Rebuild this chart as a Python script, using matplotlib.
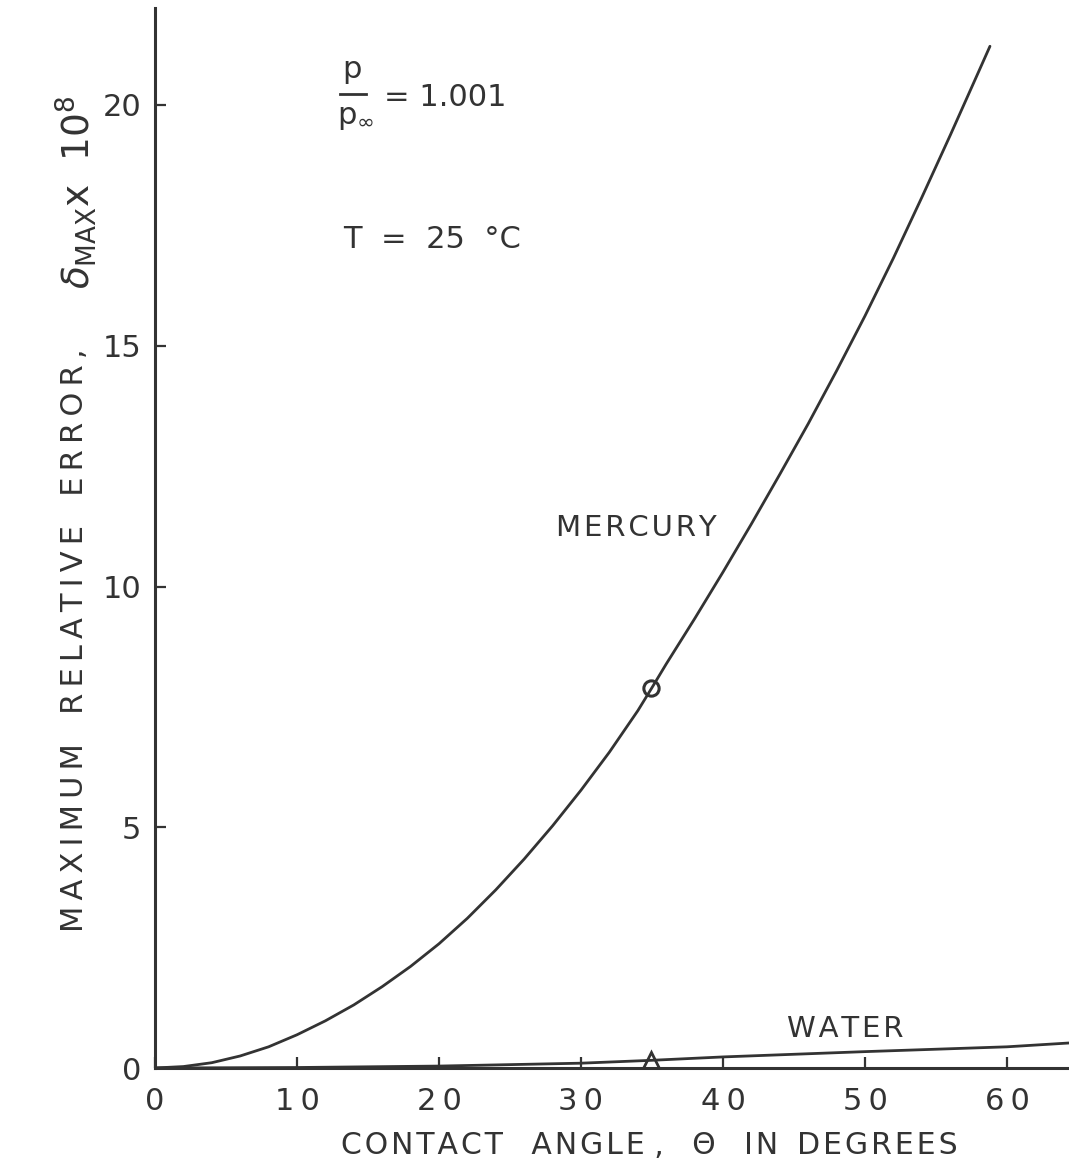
import matplotlib
matplotlib.use("Agg")
import matplotlib.pyplot as plt

# ---- data ----
mercury_theta = [0, 2, 4, 6, 8, 10, 12, 14, 16, 18, 20, 22, 24, 26, 28, 30, 32, 34, 35,
                 36, 38, 40, 42, 44, 46, 48, 50, 52, 54, 56, 58, 58.8]
mercury_delta = [0.0, 0.03, 0.11, 0.25, 0.44, 0.69, 0.98, 1.31, 1.69, 2.11, 2.58, 3.11, 3.70,
                 4.34, 5.03, 5.77, 6.56, 7.42, 7.90, 8.39, 9.33, 10.30, 11.30, 12.33, 13.38,
                 14.48, 15.62, 16.82, 18.08, 19.37, 20.69, 21.22]
water_theta = [0, 10, 20, 30, 35, 40, 50, 60, 64.4]
water_delta = [0.0, 0.01, 0.04, 0.10, 0.16, 0.23, 0.34, 0.44, 0.52]
point_theta = [34.9]
mercury_point = [7.89]
water_point = [0.17]
xticks = [0, 10, 20, 30, 40, 50, 60]
yticks = [0, 5, 10, 15, 20]

INK = "#333333"
plt.rcParams['font.family'] = ['DejaVu Sans']
plt.rcParams['mathtext.fontset'] = 'dejavusans'


def spaced(s, sep="\u200a"):
    return sep.join(s)


fig = plt.figure(figsize=(10.69, 11.75), dpi=100)
W, H = 1069, 1175
x0, x1 = 155, 1069
y0, y1 = 1068, 8
ax = fig.add_axes([x0 / W, (H - y0) / H, (x1 - x0) / W, (y0 - y1) / H])
ax.set_xlim(0, (x1 - x0) / 14.2)
ax.set_ylim(0, (y0 - y1) / 48.15)

for s in ['top', 'right']:
    ax.spines[s].set_visible(False)
for s in ['left', 'bottom']:
    ax.spines[s].set_color(INK)
    ax.spines[s].set_linewidth(2.2)

ax.plot(mercury_theta, mercury_delta, color=INK, lw=2.0, solid_capstyle='round')
ax.plot(water_theta, water_delta, color=INK, lw=2.0)
ax.plot(point_theta, mercury_point, 'o', ms=11, mfc='none', mec=INK, mew=2.2)
ax.plot(point_theta, water_point, '^', ms=12, mfc='none', mec=INK, mew=2)

ax.set_xticks(xticks)
ax.set_yticks(yticks)
ax.set_xticklabels([spaced(str(v), "\u2009") for v in xticks])
ax.set_yticklabels([str(v) for v in yticks])
ax.tick_params(axis='both', direction='in', length=8, width=1.6, color=INK,
               labelsize=22, labelcolor=INK)
ax.tick_params(axis='x', pad=14)
ax.tick_params(axis='y', pad=10)


def fx(x):
    return x / W


def fy(y):
    return (H - y) / H


# x label
fig.text(fx(649), fy(1145), spaced("CONTACT") + "   " + spaced("ANGLE") + " ,   \u0398   "
         + spaced("IN") + "  " + spaced("DEGREES"),
         fontsize=21.5, color=INK, ha='center', va='center')

# y label (rotated)
fig.text(fx(75), fy(640), spaced("MAXIMUM", "\u2009") + "   " + spaced("RELATIVE", "\u2009")
         + "   " + spaced("ERROR,", "\u2009"),
         fontsize=22, color=INK, ha='center', va='center', rotation=90)
fig.text(fx(76), fy(192), r"$\delta_{\mathrm{MAX}}$" + "x  10" + r"$^{8}$",
         fontsize=27, color=INK, ha='center', va='center', rotation=90)

# p / p_inf = 1.001
fig.text(fx(352), fy(70), "p", fontsize=22, color=INK, ha='center', va='center')
fig.add_artist(plt.Line2D([fx(340), fx(366)], [fy(94), fy(94)], color=INK, lw=2))
fig.text(fx(356), fy(117), r"p$_{\infty}$", fontsize=22, color=INK, ha='center', va='center')
fig.text(fx(384), fy(97), "= 1.001", fontsize=22, color=INK, ha='left', va='center')
fig.text(fx(343), fy(240), "T  =  25  \u00b0C", fontsize=22, color=INK, ha='left', va='center')
fig.text(fx(636), fy(528), spaced("MERCURY"), fontsize=21, color=INK, ha='center', va='center')
fig.text(fx(845), fy(1029), spaced("WATER"), fontsize=21, color=INK, ha='center', va='center')

fig.savefig("out.png", dpi=100, facecolor='white')
